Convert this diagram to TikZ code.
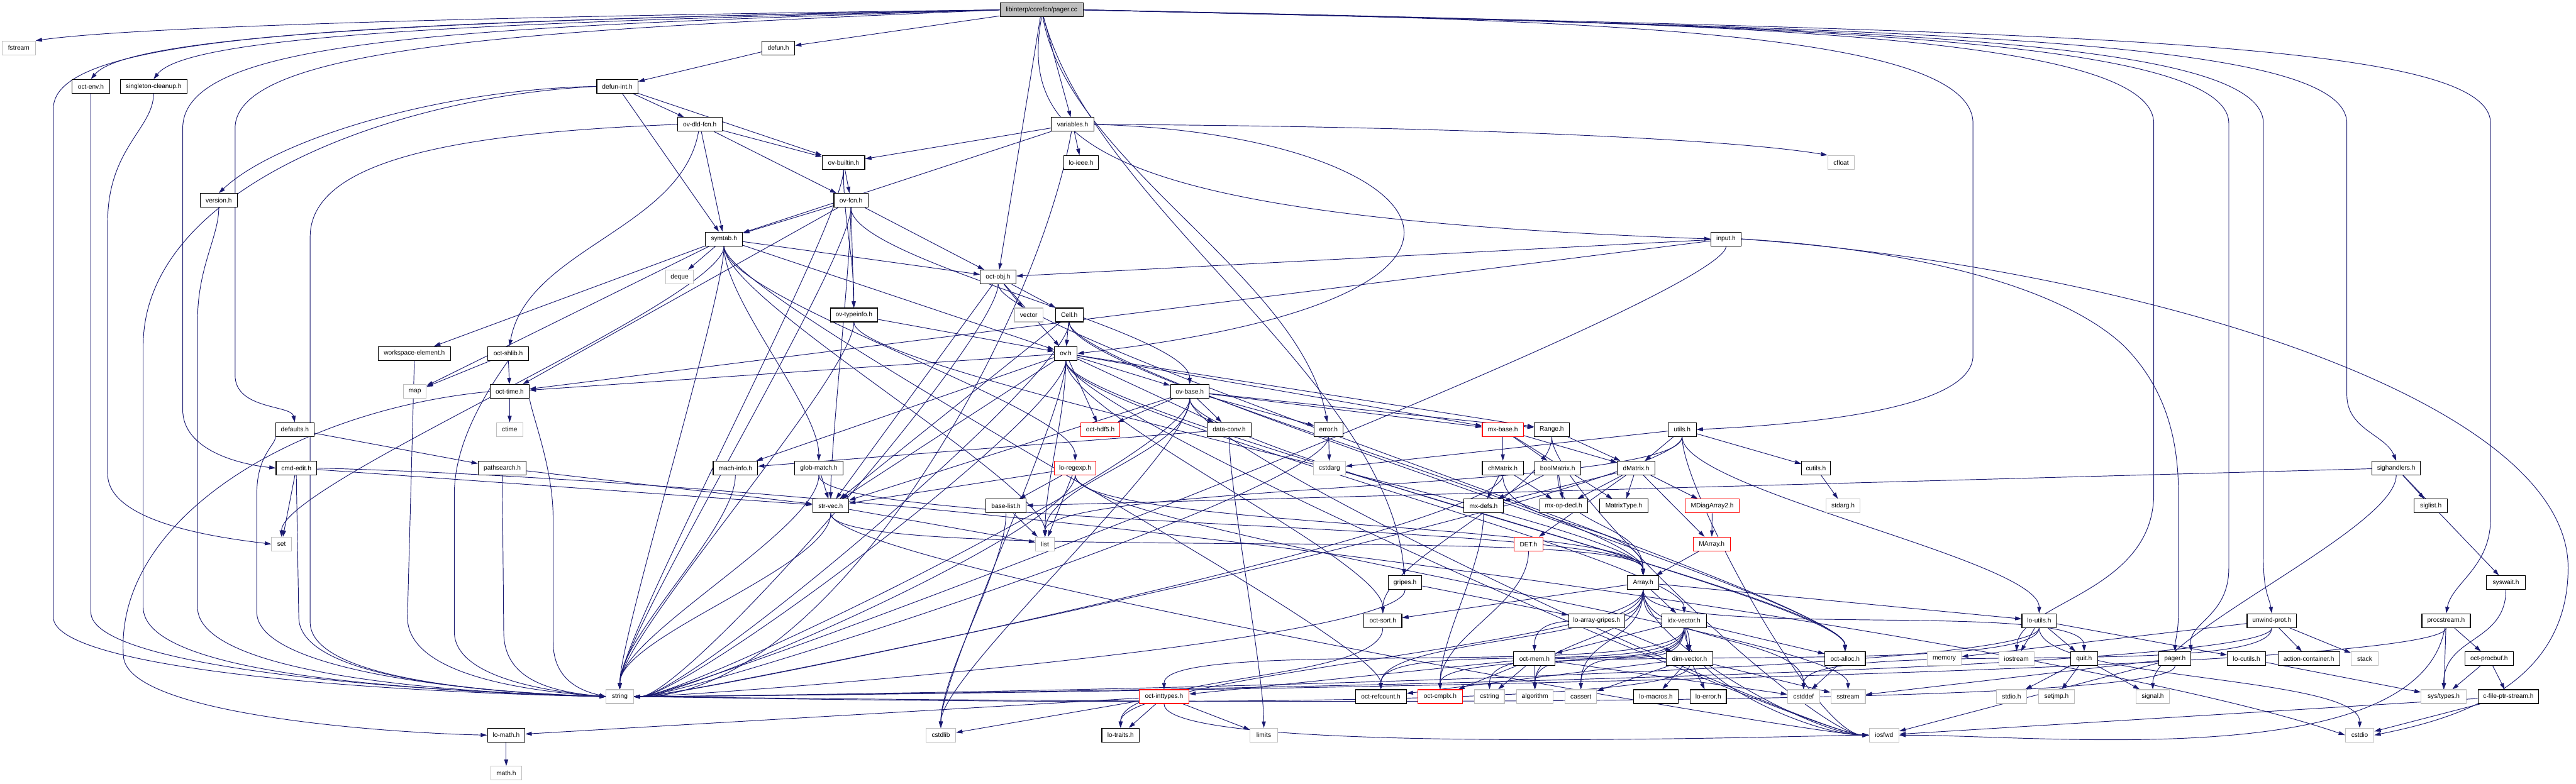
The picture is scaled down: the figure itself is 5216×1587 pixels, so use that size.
\documentclass[tikz,border=0pt]{standalone}
\usepackage{fontspec}
\setmainfont{Liberation Sans}
\usetikzlibrary{arrows.meta}
\pgfdeclarelayer{bg}
\pgfsetlayers{bg,main}
\definecolor{edgec}{HTML}{191970}
\definecolor{sysc}{HTML}{BFBFBF}
\definecolor{redc}{HTML}{FF0000}
\definecolor{rootc}{HTML}{BFBFBF}
\tikzset{
  nb/.style={draw, rectangle, minimum height=7pt, inner xsep=0.5pt, inner ysep=0.25pt,
    font=\fontsize{3.25}{3.75}\selectfont, line width=0.35pt, fill=white},
  prj/.style={draw=black},
  sys/.style={draw=sysc},
  rednode/.style={draw=redc},
  rootn/.style={draw=black, fill=rootc},
  edg/.style={draw=edgec, line width=0.3pt, -{Triangle[length=3.25pt,width=2pt]}},
  cv/.style={out=-90,in=90,distance=27pt},
  cr/.style={out=-90,in=0,distance=27pt},
  cl/.style={out=-90,in=180,distance=27pt}
}
\newcommand\Nd[6]{\node[nb,#5,minimum width={#4*0.25pt}] (#1) at (#2,-#3) {#6};}
\newcommand\Es[2]{\draw[edg] (#1) -- (#2);}
\newcommand\Ev[2]{\draw[edg] (#1) to[cv] (#2);}
\newcommand\Er[2]{\draw[edg] (#1) to[cr] (#2);}
\newcommand\El[2]{\draw[edg] (#1) to[cl] (#2);}
\begin{document}
\begin{tikzpicture}[x=0.25pt,y=0.25pt]
\useasboundingbox (0,0) rectangle (5216,-1587);
\Nd{root}{2109}{20}{168}{rootn}{libinterp/corefcn/pager.cc}
\Nd{fstream}{38}{97}{67}{sys}{fstream}
\Nd{defun}{1576}{97}{66}{prj}{defun.h}
\Nd{octenv}{184}{175}{76}{prj}{oct-env.h}
\Nd{singleton}{311}{175}{135}{prj}{singleton-cleanup.h}
\Nd{defunint}{1250}{175}{83}{prj}{defun-int.h}
\Nd{ovdld}{1417}{252}{90}{prj}{ov-dld-fcn.h}
\Nd{variables}{2172}{252}{86}{prj}{variables.h}
\Nd{ovbuiltin}{1708}{329}{86}{prj}{ov-builtin.h}
\Nd{loieee}{2189}{329}{71}{prj}{lo-ieee.h}
\Nd{cfloat}{3728}{329}{54}{sys}{cfloat}
\Nd{version}{443}{406}{75}{prj}{version.h}
\Nd{ovfcn}{1723}{406}{69}{prj}{ov-fcn.h}
\Nd{symtab}{1466}{484}{75}{prj}{symtab.h}
\Nd{input}{3495}{484}{61}{prj}{input.h}
\Nd{deque}{1376}{561}{57}{sys}{deque}
\Nd{octobj}{2021}{561}{72}{prj}{oct-obj.h}
\Nd{ovtypeinfo}{1729}{638}{96}{prj}{ov-typeinfo.h}
\Nd{vector}{2083}{638}{58}{sys}{vector}
\Nd{cell}{2165}{638}{56}{prj}{Cell.h}
\Nd{workspace}{839}{716}{147}{prj}{workspace-element.h}
\Nd{octshlib}{1029}{716}{82}{prj}{oct-shlib.h}
\Nd{ov}{2158}{716}{46}{prj}{ov.h}
\Nd{map}{840}{793}{46}{sys}{map}
\Nd{octtime}{1032}{793}{79}{prj}{oct-time.h}
\Nd{ovbase}{2409}{793}{78}{prj}{ov-base.h}
\Nd{defaults}{597}{870}{78}{prj}{defaults.h}
\Nd{ctime}{1032}{870}{54}{sys}{ctime}
\Nd{octhdf5}{2228}{870}{79}{rednode}{oct-hdf5.h}
\Nd{dataconv}{2489}{870}{89}{prj}{data-conv.h}
\Nd{error}{2690}{870}{58}{prj}{error.h}
\Nd{mxbase}{3043}{870}{83}{rednode}{mx-base.h}
\Nd{range}{3142}{870}{71}{prj}{Range.h}
\Nd{utils}{3406}{870}{57}{prj}{utils.h}
\Nd{cmdedit}{600}{948}{82}{prj}{cmd-edit.h}
\Nd{pathsearch}{1017}{948}{97}{prj}{pathsearch.h}
\Nd{machinfo}{1489}{948}{90}{prj}{mach-info.h}
\Nd{globmatch}{1658}{948}{97}{prj}{glob-match.h}
\Nd{loregexp}{2177}{948}{85}{rednode}{lo-regexp.h}
\Nd{cstdarg}{2692}{948}{64}{sys}{cstdarg}
\Nd{chmatrix}{3043}{948}{83}{prj}{chMatrix.h}
\Nd{boolmatrix}{3154}{948}{93}{prj}{boolMatrix.h}
\Nd{dmatrix}{3313}{948}{76}{prj}{dMatrix.h}
\Nd{cutils}{3677}{948}{58}{prj}{cutils.h}
\Nd{sighandlers}{4852}{948}{98}{prj}{sighandlers.h}
\Nd{strvec}{1682}{1025}{73}{prj}{str-vec.h}
\Nd{baselist}{2037}{1025}{82}{prj}{base-list.h}
\Nd{mxdefs}{3004}{1025}{80}{prj}{mx-defs.h}
\Nd{mxopdecl}{3166}{1025}{97}{prj}{mx-op-decl.h}
\Nd{matrixtype}{3288}{1025}{98}{prj}{MatrixType.h}
\Nd{mdiag}{3467}{1025}{109}{rednode}{MDiagArray2.h}
\Nd{stdargh}{3732}{1025}{69}{sys}{stdarg.h}
\Nd{siglist}{4922}{1025}{67}{prj}{siglist.h}
\Nd{set}{570}{1102}{40}{sys}{set}
\Nd{list}{2116}{1102}{38}{sys}{list}
\Nd{det}{3095}{1102}{59}{rednode}{DET.h}
\Nd{marray}{3466}{1102}{75}{rednode}{MArray.h}
\Nd{gripes}{2845}{1180}{68}{prj}{gripes.h}
\Nd{array}{3327}{1180}{63}{prj}{Array.h}
\Nd{syswait}{5074}{1180}{79}{prj}{syswait.h}
\Nd{octsort}{2800}{1257}{77}{prj}{oct-sort.h}
\Nd{loarraygripes}{3233}{1257}{114}{prj}{lo-array-gripes.h}
\Nd{idxvector}{3410}{1257}{90}{prj}{idx-vector.h}
\Nd{loutils}{4129}{1257}{70}{prj}{lo-utils.h}
\Nd{unwind}{4600}{1257}{100}{prj}{unwind-prot.h}
\Nd{procstream}{4953}{1257}{98}{prj}{procstream.h}
\Nd{octmem}{3107}{1334}{84}{prj}{oct-mem.h}
\Nd{dimvector}{3421}{1334}{94}{prj}{dim-vector.h}
\Nd{octalloc}{3736}{1334}{82}{prj}{oct-alloc.h}
\Nd{memory}{3937}{1334}{69}{sys}{memory}
\Nd{iostream}{4083}{1334}{71}{sys}{iostream}
\Nd{quit}{4220}{1334}{54}{prj}{quit.h}
\Nd{pager}{4404}{1334}{65}{prj}{pager.h}
\Nd{locutils}{4549}{1334}{78}{prj}{lo-cutils.h}
\Nd{action}{4675}{1334}{125}{prj}{action-container.h}
\Nd{stack}{4788}{1334}{54}{sys}{stack}
\Nd{octprocbuf}{5040}{1334}{98}{prj}{oct-procbuf.h}
\Nd{string}{1255}{1411}{55}{sys}{string}
\Nd{octinttypes}{2357}{1411}{101}{rednode}{oct-inttypes.h}
\Nd{octrefcount}{2796}{1411}{103}{prj}{oct-refcount.h}
\Nd{octcmplx}{2916}{1411}{90}{rednode}{oct-cmplx.h}
\Nd{cstring}{3016}{1411}{60}{sys}{cstring}
\Nd{algorithm}{3108}{1411}{74}{sys}{algorithm}
\Nd{cassert}{3201}{1411}{64}{sys}{cassert}
\Nd{lomacros}{3353}{1411}{90}{prj}{lo-macros.h}
\Nd{loerror}{3459}{1411}{73}{prj}{lo-error.h}
\Nd{cstddef}{3652}{1411}{65}{sys}{cstddef}
\Nd{sstream}{3742}{1411}{70}{sys}{sstream}
\Nd{stdioh}{4073}{1411}{61}{sys}{stdio.h}
\Nd{setjmp}{4164}{1411}{72}{sys}{setjmp.h}
\Nd{signal}{4359}{1411}{67}{sys}{signal.h}
\Nd{systypes}{4948}{1411}{91}{sys}{sys/types.h}
\Nd{cfileptr}{5079}{1411}{123}{prj}{c-file-ptr-stream.h}
\Nd{lomath}{1025}{1489}{76}{prj}{lo-math.h}
\Nd{cstdlib}{1905}{1489}{60}{sys}{cstdlib}
\Nd{lotraits}{2269}{1489}{76}{prj}{lo-traits.h}
\Nd{limits}{2559}{1489}{55}{sys}{limits}
\Nd{iosfwd}{3815}{1489}{60}{sys}{iosfwd}
\Nd{cstdio}{4778}{1489}{58}{sys}{cstdio}
\Nd{mathh}{1025}{1566}{62}{sys}{math.h}
\begin{pgfonlayer}{bg}
% root
\draw[edg] (root.west) .. controls (1200,-30) and (300,-50) .. (fstream.north east);
\draw[edg] (root.west) .. controls (900,-40) and (260,-70) .. (octenv.north);
\draw[edg] (root.west) .. controls (1000,-45) and (380,-70) .. (singleton.north);
\draw[edg] (root.west) .. controls (700,-45) and (108,-70) .. (108,-220) -- (108,-1250) .. controls (108,-1350) and (700,-1400) .. (string.west);
\draw[edg] (root.west) .. controls (900,-55) and (370,-80) .. (370,-260) -- (370,-830) .. controls (370,-910) and (480,-940) .. (cmdedit.west);
\draw[edg] (root.west) .. controls (1100,-60) and (476,-90) .. (476,-260) -- (476,-760) .. controls (476,-830) and (590,-820) .. (defaults.north);
\Es{root}{defun}
\Es{root}{variables}
\Es{root}{octobj}
\draw[edg] (root.south) .. controls (2060,-300) and (2250,-440) .. (input.west);
\draw[edg] (root) to[out=-80,in=100,distance=75pt] (error);
\draw[edg] (root) to[out=-75,in=95,distance=100pt] (gripes);
\draw[edg] (root.east) .. controls (3200,-40) and (3995,-60) .. (3995,-250) -- (3995,-720) .. controls (3995,-830) and (3650,-860) .. (utils.east);
\draw[edg] (root.east) .. controls (3400,-45) and (4361,-60) .. (4361,-250) -- (4361,-1000) .. controls (4361,-1200) and (4090,-1220) .. (iostream.north);
\draw[edg] (root.east) .. controls (3500,-50) and (4513,-65) .. (4513,-250) -- (4513,-1150) .. controls (4513,-1250) and (4430,-1260) .. (pager.north east);
\draw[edg] (root.east) .. controls (3700,-55) and (4583,-70) .. (4583,-250) -- (4583,-1130) .. controls (4583,-1200) and (4595,-1210) .. (unwind.north);
\draw[edg] (root.east) .. controls (3900,-60) and (4752,-75) .. (4752,-250) -- (4752,-800) .. controls (4752,-870) and (4830,-880) .. (sighandlers.north);
\draw[edg] (root.east) .. controls (4200,-65) and (5043,-80) .. (5043,-250) -- (5043,-1050) .. controls (5043,-1150) and (4965,-1180) .. (procstream.north);
% defun, defun-int
\Es{defun}{defunint}
\draw[edg] (defunint.west) .. controls (900,-180) and (560,-280) .. (version.north);
\draw[edg] (defunint.west) .. controls (800,-195) and (290,-380) .. (290,-700) -- (290,-1230) .. controls (290,-1350) and (700,-1395) .. (string.west);
\Es{defunint}{ovdld}
\Es{defunint}{ovbuiltin}
\Es{defunint}{symtab}
\draw[edg] (octenv.south) -- (184,-1240) .. controls (184,-1350) and (800,-1400) .. (string.west);
\draw[edg] (singleton.south) .. controls (311,-260) and (218,-300) .. (218,-450) -- (218,-960) .. controls (218,-1060) and (450,-1090) .. (set.west);
\draw[edg] (version.south) .. controls (443,-480) and (400,-540) .. (400,-650) -- (400,-1230) .. controls (400,-1350) and (800,-1400) .. (string.west);
% ov-dld-fcn
\draw[edg] (ovdld.west) .. controls (900,-270) and (628,-330) .. (628,-480) -- (628,-1260) .. controls (628,-1360) and (900,-1400) .. (string.west);
\draw[edg] (ovdld) to[out=-100,in=80,distance=50pt] (octshlib);
\Es{ovdld}{ovbuiltin}
\Es{ovdld}{ovfcn}
\Es{ovdld}{symtab}
% variables
\draw[edg] (variables.east) .. controls (2900,-255) and (3500,-280) .. (cfloat.north west);
\draw[edg] (variables) to[out=-100,in=0,distance=100pt] (string);
\Es{variables}{loieee}
\Es{variables}{ovbuiltin}
\Es{variables}{symtab}
\draw[edg] (variables.east) .. controls (2900,-270) and (3200,-600) .. (ov.east);
% ov-builtin, ov-fcn
\Es{ovbuiltin}{ovfcn}
\Ev{ovbuiltin}{ovtypeinfo}
\Ev{ovbuiltin}{string}
\Ev{ovfcn}{string}
\Es{ovfcn}{octtime}
\Ev{ovfcn}{strvec}
\Es{ovfcn}{octobj}
\Ev{ovfcn}{ovbase}
\Es{ovfcn}{ovtypeinfo}
\Es{ovfcn}{symtab}
% symtab
\Es{symtab}{deque}
\Ev{symtab}{list}
\Es{symtab}{map}
\Ev{symtab}{set}
\Ev{symtab}{string}
\Ev{symtab}{globmatch}
\Ev{symtab}{loregexp}
\Es{symtab}{octobj}
\Ev{symtab}{octrefcount}
\Es{symtab}{ov}
\Es{symtab}{workspace}
% input
\draw[edg] (input.east) .. controls (4300,-540) and (5200,-800) .. (5200,-1150) .. controls (5200,-1400) and (4950,-1460) .. (cstdio.east);
\Er{input}{string}
\Es{input}{octtime}
\Es{input}{octobj}
\draw[edg] (input.east) .. controls (3800,-500) and (4150,-560) .. (4300,-700) .. controls (4390,-790) and (4411,-900) .. (4411,-1000) -- (4411,-1240) .. controls (4411,-1280) and (4404,-1300) .. (pager.north);
% oct-obj, ov-typeinfo, Cell
\Er{octobj}{string}
\Es{octobj}{vector}
\Es{octobj}{cell}
\Es{octobj}{ov}
\Ev{octobj}{octalloc}
\Es{octobj}{strvec}
\Ev{ovtypeinfo}{string}
\Ev{ovtypeinfo}{array}
\Es{ovtypeinfo}{ov}
\Er{cell}{string}
\Ev{cell}{array}
\Ev{cell}{octalloc}
\Es{cell}{strvec}
\Es{cell}{ov}
% left side
\draw[edg] (workspace.south) -- (825,-1250) .. controls (825,-1350) and (1000,-1395) .. (string.west);
\Es{octshlib}{map}
\Es{octshlib}{octtime}
\draw[edg] (octshlib.south) .. controls (980,-800) and (920,-900) .. (920,-1000) -- (920,-1280) .. controls (920,-1370) and (1100,-1400) .. (string.west);
\Es{octtime}{ctime}
\draw[edg] (octtime.south east) .. controls (1080,-850) and (1120,-950) .. (1120,-1050) -- (1120,-1300) .. controls (1120,-1380) and (1180,-1400) .. (string.west);
\draw[edg] (octtime.west) .. controls (600,-830) and (230,-1050) .. (250,-1330) .. controls (260,-1450) and (800,-1485) .. (lomath.west);
\draw[edg] (defaults.south west) .. controls (560,-900) and (520,-920) .. (520,-1000) -- (520,-1240) .. controls (520,-1350) and (900,-1400) .. (string.west);
\Es{defaults}{pathsearch}
\draw[edg] (cmdedit.east) .. controls (2000,-985) and (4200,-1300) .. (cstdio.west);
\draw[edg] (cmdedit.south) -- (605,-1250) .. controls (605,-1360) and (900,-1400) .. (string.west);
\Es{cmdedit}{strvec}
\Es{cmdedit}{set}
\draw[edg] (pathsearch.south) -- (1020,-1280) .. controls (1020,-1370) and (1100,-1400) .. (string.west);
\Es{pathsearch}{strvec}
% ov
\Ev{ov}{cstdlib}
\El{ov}{iosfwd}
\Er{ov}{string}
\Ev{ov}{list}
\Es{ov}{range}
\Es{ov}{dataconv}
\Ev{ov}{idxvector}
\Es{ov}{machinfo}
\Es{ov}{mxbase}
\Ev{ov}{octalloc}
\Es{ov}{octtime}
\Es{ov}{strvec}
\Es{ov}{octhdf5}
\Ev{ov}{octsort}
\Es{ov}{ovbase}
% ov-base
\Ev{ovbase}{cstdlib}
\El{ovbase}{iosfwd}
\Ev{ovbase}{list}
\Er{ovbase}{string}
\Es{ovbase}{range}
\Es{ovbase}{dataconv}
\Es{ovbase}{mxbase}
\Es{ovbase}{strvec}
\Es{ovbase}{error}
\Es{ovbase}{octhdf5}
\Ev{ovbase}{octalloc}
% middle
\Ev{dataconv}{limits}
\Es{dataconv}{machinfo}
\Es{error}{cstdarg}
\Er{error}{string}
\Es{mxbase}{chmatrix}
\Es{mxbase}{boolmatrix}
\Es{mxbase}{dmatrix}
\Es{mxbase}{matrixtype}
\El{range}{iosfwd}
\Es{range}{dmatrix}
\Ev{range}{octsort}
\Es{utils}{cstdarg}
\El{utils}{iosfwd}
\Er{utils}{string}
\Ev{utils}{list}
\Es{utils}{dmatrix}
\Ev{utils}{loutils}
\Es{utils}{cutils}
\Ev{machinfo}{string}
\Ev{globmatch}{string}
\Es{globmatch}{strvec}
\Ev{globmatch}{array}
\Es{loregexp}{list}
\Ev{loregexp}{sstream}
\Er{loregexp}{string}
\Ev{loregexp}{array}
\Es{loregexp}{baselist}
\Es{loregexp}{strvec}
\Er{chmatrix}{string}
\Es{chmatrix}{mxdefs}
\Es{chmatrix}{mxopdecl}
\Ev{chmatrix}{array}
\Es{boolmatrix}{mxdefs}
\Es{boolmatrix}{mxopdecl}
\Ev{boolmatrix}{array}
\Es{dmatrix}{matrixtype}
\Es{dmatrix}{mxdefs}
\Es{dmatrix}{mxopdecl}
\Es{dmatrix}{mdiag}
\Es{dmatrix}{det}
\Es{dmatrix}{marray}
\Es{cutils}{stdargh}
\Ev{sighandlers}{signal}
\Es{sighandlers}{siglist}
\Es{sighandlers}{syswait}
\Es{sighandlers}{baselist}
\El{strvec}{iosfwd}
\Es{strvec}{list}
\Ev{strvec}{string}
\Ev{strvec}{array}
\Es{baselist}{list}
\Ev{baselist}{cstdlib}
\Ev{mxdefs}{octcmplx}
\Es{mdiag}{marray}
\Ev{det}{octcmplx}
\Es{marray}{array}
% Array
\Ev{array}{cassert}
\Ev{array}{cstddef}
\Ev{array}{algorithm}
\El{array}{iosfwd}
\Ev{array}{dimvector}
\Es{array}{idxvector}
\Ev{array}{lotraits}
\Es{array}{loutils}
\Ev{array}{quit}
\Es{array}{octsort}
\Ev{array}{octmem}
\Ev{array}{octrefcount}
\Es{gripes}{loarraygripes}
\Er{gripes}{string}
\Ev{syswait}{systypes}
\Ev{octsort}{lotraits}
\Es{loarraygripes}{dimvector}
\Ev{idxvector}{cassert}
\Ev{idxvector}{cstring}
\Ev{idxvector}{algorithm}
\El{idxvector}{iosfwd}
\Es{idxvector}{dimvector}
\Ev{idxvector}{octinttypes}
\Es{idxvector}{octalloc}
\Es{idxvector}{octmem}
\Ev{idxvector}{octrefcount}
\Ev{loutils}{cstdio}
\Es{loutils}{iostream}
\Er{loutils}{string}
\Es{loutils}{quit}
\Es{loutils}{locutils}
\Ev{loutils}{octcmplx}
\Ev{unwind}{cstddef}
\Er{unwind}{string}
\Es{unwind}{stack}
\Es{unwind}{memory}
\Es{unwind}{action}
\draw[edg] (procstream) to[out=-100,in=0,distance=75pt] (iosfwd);
\Er{procstream}{string}
\Es{procstream}{systypes}
\Es{procstream}{octprocbuf}
\Es{octmem}{cstddef}
\Es{octmem}{cstring}
\Es{octmem}{algorithm}
\Es{octmem}{octcmplx}
\Es{octmem}{octinttypes}
\Es{dimvector}{cassert}
\Es{dimvector}{sstream}
\Er{dimvector}{string}
\Es{dimvector}{loerror}
\Es{dimvector}{lomacros}
\Es{dimvector}{octrefcount}
\Es{octalloc}{cstddef}
\Es{quit}{stdioh}
\Es{quit}{setjmp}
\Es{quit}{signal}
\Es{pager}{iosfwd}
\Es{pager}{sstream}
\Er{pager}{string}
\Es{locutils}{systypes}
\Es{octprocbuf}{systypes}
\Es{octprocbuf}{cfileptr}
\Es{octinttypes}{cstdlib}
\Es{octinttypes}{limits}
\El{octinttypes}{iosfwd}
\Es{octinttypes}{lotraits}
\Es{octinttypes}{lomath}
\Es{cfileptr}{cstdio}
\Es{cfileptr}{iosfwd}
\Es{lomath}{mathh}
\end{pgfonlayer}
\end{tikzpicture}
\end{document}
